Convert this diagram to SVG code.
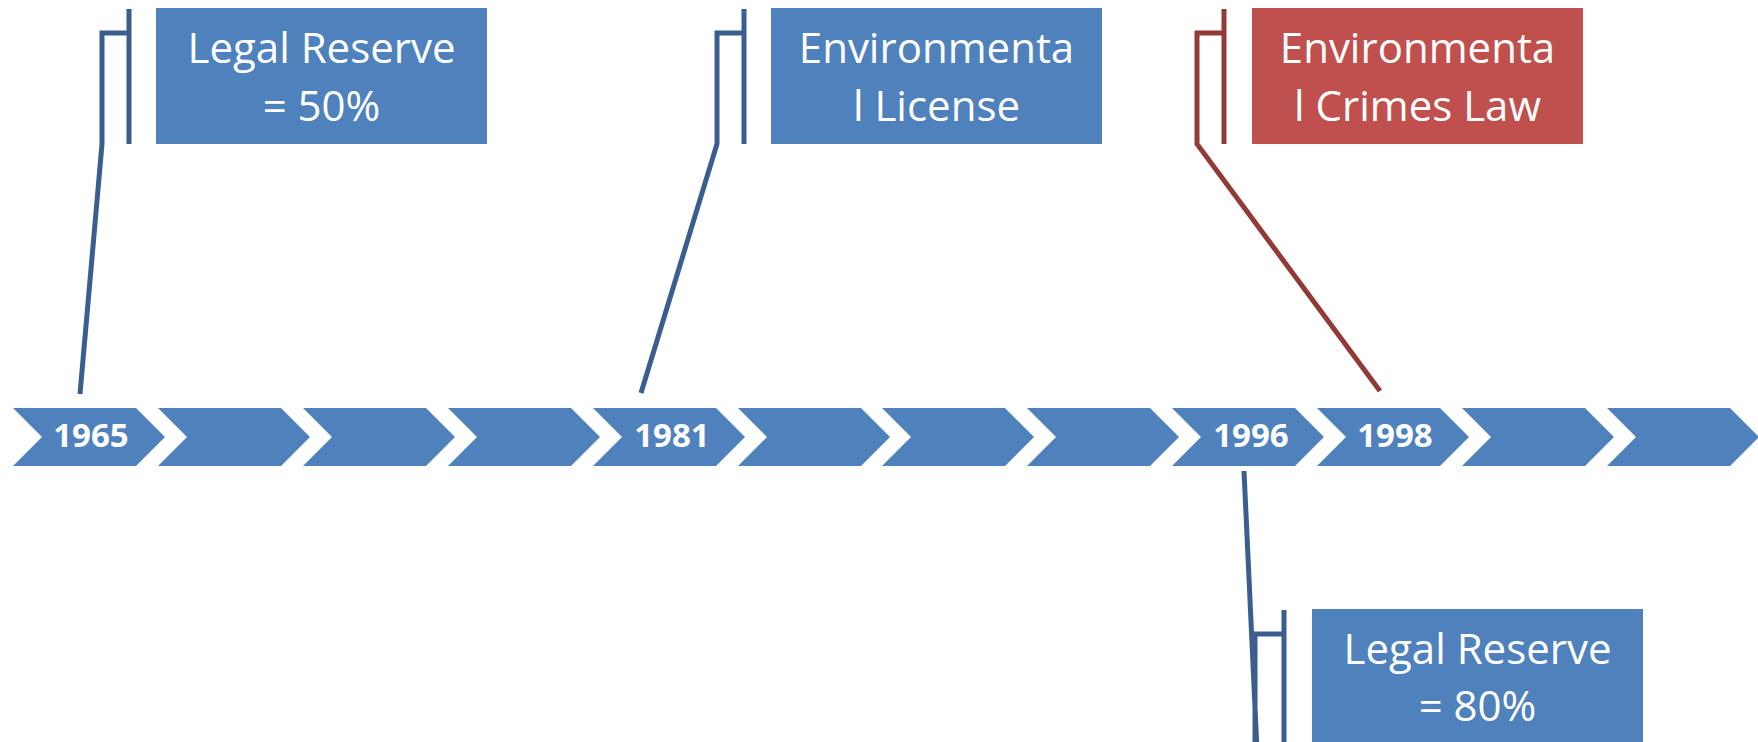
<svg xmlns="http://www.w3.org/2000/svg" width="1758" height="742" viewBox="0 0 1758 742">
<defs>
<style>
.chev{fill:#4F81BD;}
.yr{font-family:"Open Sans","Liberation Sans",sans-serif;font-weight:bold;font-size:33px;fill:#FFFFFF;text-anchor:middle;}
.box{fill:#4F81BD;}
.boxr{fill:#C0504D;}
.lbl{font-family:"Open Sans","Liberation Sans",sans-serif;font-size:42px;fill:#FFFFFF;text-anchor:middle;}
.cb{fill:none;stroke:#3A5F8E;stroke-width:5;stroke-linejoin:miter;}
.cr{fill:none;stroke:#923A37;stroke-width:5;stroke-linejoin:miter;}
</style>
<path id="chevShape" d="M0,408 L123,408 L152,437 L123,466 L0,466 L29,437 Z"/>
</defs>
<rect width="1758" height="742" fill="#FFFFFF"/>

<g id="timeline">
<g id="chev-1965"><use href="#chevShape" class="chev" x="13"/><text class="yr" x="91" y="447">1965</text></g>
<g id="chev-2"><use href="#chevShape" class="chev" x="158"/></g>
<g id="chev-3"><use href="#chevShape" class="chev" x="303"/></g>
<g id="chev-4"><use href="#chevShape" class="chev" x="448"/></g>
<g id="chev-1981"><use href="#chevShape" class="chev" x="593"/><text class="yr" x="672" y="447">1981</text></g>
<g id="chev-6"><use href="#chevShape" class="chev" x="738"/></g>
<g id="chev-7"><use href="#chevShape" class="chev" x="882"/></g>
<g id="chev-8"><use href="#chevShape" class="chev" x="1027"/></g>
<g id="chev-1996"><use href="#chevShape" class="chev" x="1172"/><text class="yr" x="1251" y="447">1996</text></g>
<g id="chev-1998"><use href="#chevShape" class="chev" x="1317"/><text class="yr" x="1395" y="447">1998</text></g>
<g id="chev-11"><use href="#chevShape" class="chev" x="1462"/></g>
<g id="chev-12"><use href="#chevShape" class="chev" x="1607"/></g>
</g>

<g id="connectors">
<path class="cb" d="M129,9 V144 M129,33 H102 V144 L80,394"/>
<path class="cb" d="M744,9 V144 M744,33 H717 V144 L641,393"/>
<path class="cr" d="M1224,9 V144 M1224,33 H1197 V144 L1380,391"/>
<path class="cb" d="M1284,610 V750 M1284,634 H1255 V750 M1257,750 L1244,471"/>
</g>

<g id="note-legal-50">
<rect class="box" x="156" y="8" width="331" height="136"/>
<text class="lbl" x="321.5" y="63">Legal Reserve</text>
<text class="lbl" x="321.5" y="121">= 50%</text>
</g>
<g id="note-env-license">
<rect class="box" x="771" y="8" width="331" height="136"/>
<text class="lbl" x="936.5" y="63">Environmenta</text>
<text class="lbl" x="936.5" y="121">l License</text>
</g>
<g id="note-env-crimes">
<rect class="boxr" x="1252" y="8" width="331" height="136"/>
<text class="lbl" x="1417.5" y="63">Environmenta</text>
<text class="lbl" x="1417.5" y="121">l Crimes Law</text>
</g>
<g id="note-legal-80">
<rect class="box" x="1312" y="609" width="331" height="136"/>
<text class="lbl" x="1477.5" y="664">Legal Reserve</text>
<text class="lbl" x="1477.5" y="721">= 80%</text>
</g>
</svg>
